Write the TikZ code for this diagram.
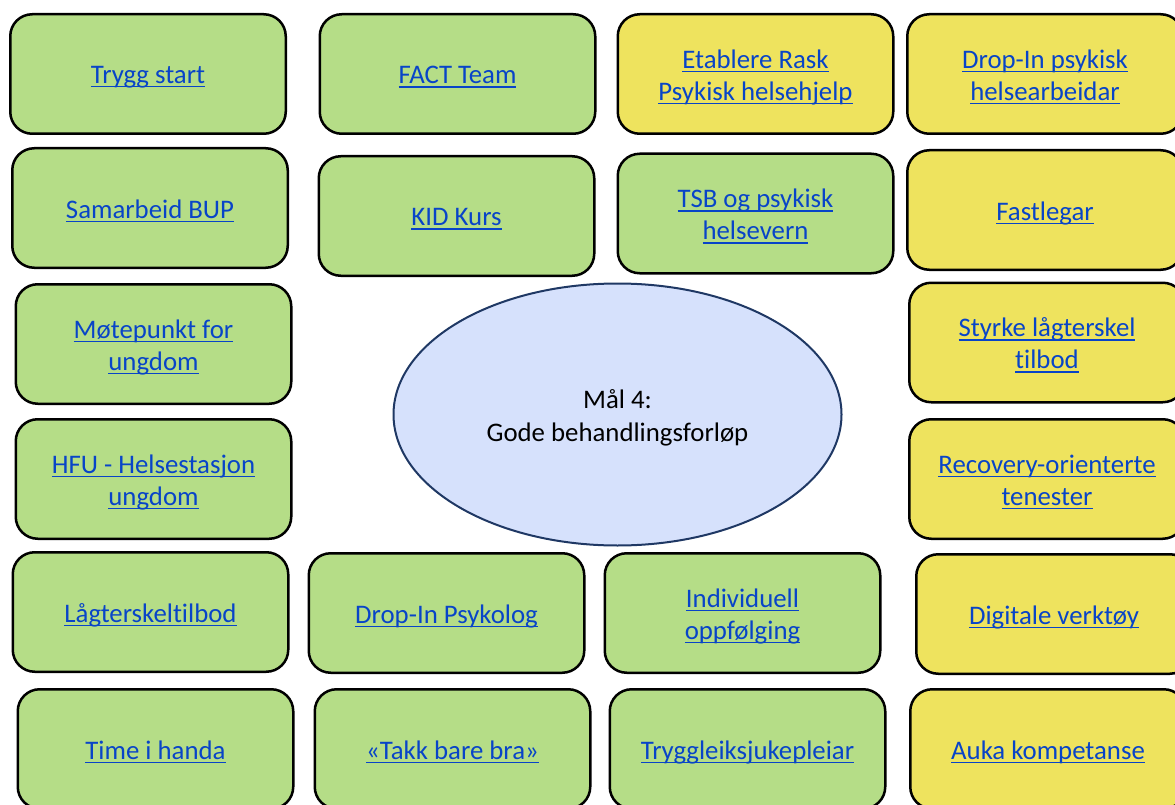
\documentclass[tikz,border=0pt]{standalone}
\usepackage{fontspec}
\setmainfont[Ligatures={NoCommon}]{Carlito}
\usetikzlibrary{shapes.geometric}

\definecolor{boxgreen}{RGB}{181,221,135}
\definecolor{boxyellow}{RGB}{238,227,94}
\definecolor{goalfill}{RGB}{214,225,252}
\definecolor{goalline}{RGB}{31,56,100}
\definecolor{linkblue}{RGB}{8,68,200}

% one line of text set a little lower than its box would put it
\newcommand\lowered[1]{\raisebox{-3pt}[\height][\depth]{#1}}
% hyperlink-style text: underlined just below the baseline
\newcommand\lnk[1]{\lowered{\setbox0\hbox{#1}\rlap{\rule[-4pt]{\wd0}{1.5pt}}\box0}}

\tikzset{
  item/.style={draw=black, line width=2.5pt, rounded corners=22pt,
    minimum width=275.5pt, minimum height=119.5pt, inner sep=0pt,
    align=center, text=linkblue, font=\fontsize{26.8}{32}\selectfont},
  greenbox/.style={item, fill=boxgreen},
  yellowbox/.style={item, fill=boxyellow},
  goal/.style={ellipse, draw=goalline, fill=goalfill, line width=2pt,
    minimum width=448pt, minimum height=262pt, inner sep=0pt,
    align=center, font=\fontsize{26.8}{33}\selectfont}
}

\begin{document}
\begin{tikzpicture}[x=1pt, y=-1pt]
  \useasboundingbox (0,0) rectangle (1175,805);
  \clip (0,0) rectangle (1175,805);

  % central goal
  \node[goal] (goal) at (617.5,414.5) {\lowered{Mål 4:}\\\lowered{Gode behandlingsforløp}};

  % row 1
  \node[greenbox]  (trygg)   at (148,74)    {\lnk{Trygg start}};
  \node[greenbox]  (fact)    at (457.5,74)  {\lnk{FACT Team}};
  \node[yellowbox] (rask)    at (755.5,74)  {\lnk{Etablere Rask}\\\lnk{Psykisk helsehjelp}};
  \node[yellowbox] (dropinh) at (1045,74)   {\lnk{Drop-In psykisk}\\\lnk{helsearbeidar}};

  % row 2
  \node[greenbox]  (bup)     at (150,208)   {\lnk{Samarbeid BUP}};
  \node[greenbox]  (kid)     at (456.5,216) {\lnk{KID Kurs}};
  \node[greenbox]  (tsb)     at (755.5,213.5) {\lnk{TSB og psykisk}\\\lnk{helsevern}};
  \node[yellowbox] (fastlege) at (1045,210) {\lnk{Fastlegar}};

  % row 3
  \node[greenbox]  (mote)    at (153.5,344) {\lnk{Møtepunkt for}\\\lnk{ungdom}};
  \node[yellowbox] (styrke)  at (1047,342.5) {\lnk{Styrke lågterskel}\\\lnk{tilbod}};

  % row 4
  \node[greenbox]  (hfu)     at (153.5,479) {\lnk{HFU - Helsestasjon}\\\lnk{ungdom}};
  \node[yellowbox] (recov)   at (1047,479)  {\lnk{Recovery-orienterte}\\\lnk{tenester}};

  % row 5
  \node[greenbox]  (lag)     at (150.5,612) {\lnk{Lågterskeltilbod}};
  \node[greenbox]  (psyk)    at (446.5,613) {\lnk{Drop-In Psykolog}};
  \node[greenbox]  (indiv)   at (742.5,613) {\lnk{Individuell}\\\lnk{oppfølging}};
  \node[yellowbox] (digi)    at (1054,614)  {\lnk{Digitale verktøy}};

  % row 6
  \node[greenbox]  (time)    at (155.5,749) {\lnk{Time i handa}};
  \node[greenbox]  (takk)    at (452.5,749) {\lnk{«Takk bare bra»}};
  \node[greenbox]  (trygsj)  at (747.5,749) {\lnk{Tryggleiksjukepleiar}};
  \node[yellowbox] (auka)    at (1048,749)  {\lnk{Auka kompetanse}};
\end{tikzpicture}
\end{document}
